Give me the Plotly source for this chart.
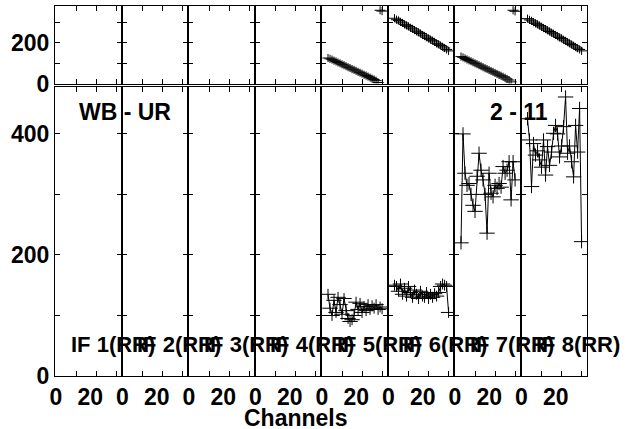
import plotly.graph_objects as go

# ---------------- data ----------------
channels = list(range(3, 31))  # channels 3..30
if_names = ["IF 1(RR)", "IF 2(RR)", "IF 3(RR)", "IF 4(RR)",
            "IF 5(RR)", "IF 6(RR)", "IF 7(RR)", "IF 8(RR)"]

phase_if5 = [125, 121, 117, 112, 108, 103, 99, 94, 90, 85, 80, 76, 71, 67, 62,
             57, 53, 48, 43, 39, 34, 29, 24, 20, 14, 5, 359, 355]
phase_if6 = [320, 313, 309, 302, 297, 290, 285, 280, 273, 268, 262, 256, 251, 245,
             238, 233, 227, 221, 215, 210, 204, 197, 192, 186, 180, 174, 167, 160]
phase_if7 = [132, 128, 123, 118, 113, 109, 104, 99, 95, 90, 85, 80, 75, 71, 66,
             61, 57, 52, 47, 42, 38, 33, 28, 22, 17, 8, 359, 354]
phase_if8 = [318, 312, 307, 301, 295, 290, 284, 278, 272, 267, 261, 255, 249, 244,
             238, 232, 226, 221, 214, 209, 203, 197, 191, 185, 179, 173, 167, 160]

amp_if5 = [135, 112, 100, 125, 105, 130, 118, 102, 128, 108, 95, 90, 93, 100,
           122, 110, 120, 105, 115, 108, 118, 110, 116, 112, 118, 110, 114, 111]
amp_if6 = [150, 148, 140, 152, 135, 145, 132, 148, 138, 130, 142, 135, 128, 140,
           132, 130, 138, 128, 135, 130, 136, 132, 138, 148, 152, 150, 148, 105]
amp_if7 = [220, 400, 335, 315, 318, 300, 282, 272, 330, 368, 340, 324, 300, 236,
           335, 302, 296, 315, 310, 318, 312, 346, 335, 340, 354, 291, 354, 324]
amp_if8 = [425, 390, 313, 384, 365, 372, 357, 345, 390, 332, 379, 348, 370, 401,
           414, 400, 362, 380, 412, 461, 368, 380, 354, 329, 414, 370, 442, 222]

phase_data = [None, None, None, None, phase_if5, phase_if6, phase_if7, phase_if8]
amp_data = [None, None, None, None, amp_if5, amp_if6, amp_if7, amp_if8]
phase_err = [0, 0, 0, 0, 20, 20, 20, 20]
amp_err = [0, 0, 0, 0, 9, 9, 11, 11]

x_ticks = [0, 10, 20, 30]
x_ticktext = ["0", "", "20\u2002", ""]
phase_ticks = [0, 100, 200, 300]
phase_ticktext = ["0", "", "200", ""]
amp_ticks = [0, 100, 200, 300, 400]
amp_ticktext = ["0", "", "200", "", "400"]

baseline_label = "WB - UR"
source_label = "2 - 11"
x_title = "Channels"

# ---------------- figure ----------------
FONT = "Liberation Sans, Arial, sans-serif"
BOLD = dict(family=FONT, size=23, color="black", weight="bold")
BOLD_IF = dict(family=FONT, size=22, color="black", weight="bold")

fig = go.Figure()
layout = {}
n = 8
ph_dom = [0.7905, 1.0]
am_dom = [0.0, 0.7803]

for i in range(n):
    xd = [i / n, (i + 1) / n]
    kp = i + 1
    ka = i + 1 + n
    common_x = dict(range=[-0.5, 32.7], tickvals=x_ticks, ticks="inside", ticklen=5,
                    tickcolor="black", tickwidth=1, showline=True, linecolor="black",
                    linewidth=1, mirror="ticks", showgrid=False, zeroline=False,
                    domain=xd, fixedrange=True)
    layout[f"xaxis{kp}"] = dict(common_x, anchor=f"y{kp}", showticklabels=False)
    layout[f"xaxis{ka}"] = dict(common_x, anchor=f"y{ka}", ticktext=x_ticktext,
                                showticklabels=True, tickfont=BOLD)
    common_y = dict(ticks="inside", ticklen=5, tickcolor="black", tickwidth=1,
                    showline=True, linecolor="black", linewidth=1, mirror="ticks",
                    showgrid=False, zeroline=False, tickfont=BOLD, fixedrange=True)
    layout[f"yaxis{kp}"] = dict(common_y, domain=ph_dom, anchor=f"x{kp}", range=[0, 380],
                                tickvals=phase_ticks, ticktext=phase_ticktext,
                                showticklabels=(i == 0))
    layout[f"yaxis{ka}"] = dict(common_y, domain=am_dom, anchor=f"x{ka}", range=[0, 477],
                                tickvals=amp_ticks, ticktext=amp_ticktext,
                                showticklabels=(i == 0))

    ph = phase_data[i] if phase_data[i] is not None else []
    am = amp_data[i] if amp_data[i] is not None else []
    chx = channels if phase_data[i] is not None else []
    fig.add_trace(go.Scatter(
        x=chx, y=ph, mode="markers",
        xaxis=f"x{kp}", yaxis=f"y{kp}",
        marker=dict(symbol="line-ew", size=8, line=dict(color="black", width=1)),
        error_y=dict(type="constant", value=phase_err[i], thickness=1, width=0,
                     color="black", visible=bool(ph)),
        showlegend=False, name=if_names[i]))
    fig.add_trace(go.Scatter(
        x=chx, y=am, mode="lines+markers",
        xaxis=f"x{ka}", yaxis=f"y{ka}",
        line=dict(color="black", width=1),
        marker=dict(symbol="line-ew", size=11, line=dict(color="black", width=1)),
        error_y=dict(type="constant", value=amp_err[i], thickness=1, width=0,
                     color="black", visible=bool(am)),
        showlegend=False, name=if_names[i]))

annotations = []
for i in range(n):
    annotations.append(dict(text=if_names[i], xref="paper", yref="paper",
                            x=i / n + 0.026, y=0.085, xanchor="left", yanchor="middle",
                            showarrow=False, font=BOLD_IF))
annotations.append(dict(text=baseline_label, xref="paper", yref="paper",
                        x=(125 - 55) / 532, y=(376 - 112) / 370, xanchor="center",
                        yanchor="middle", showarrow=False, font=BOLD))
annotations.append(dict(text=source_label, xref="paper", yref="paper",
                        x=(519 - 55) / 532, y=(376 - 112) / 370, xanchor="center",
                        yanchor="middle", showarrow=False, font=BOLD))
annotations.append(dict(text=x_title, xref="paper", yref="paper",
                        x=(295.5 - 55) / 532, y=(376 - 418) / 370, xanchor="center",
                        yanchor="middle", showarrow=False, font=BOLD))

fig.update_layout(**layout)
fig.update_layout(width=630, height=429, margin=dict(l=55, r=43, t=6, b=53),
                  paper_bgcolor="white", plot_bgcolor="white",
                  annotations=annotations, font=BOLD, showlegend=False)

fig.write_html("out.html", config={"displayModeBar": False},
               post_script="document.body.style.margin='0';"
                           "document.body.style.overflow='hidden';")
